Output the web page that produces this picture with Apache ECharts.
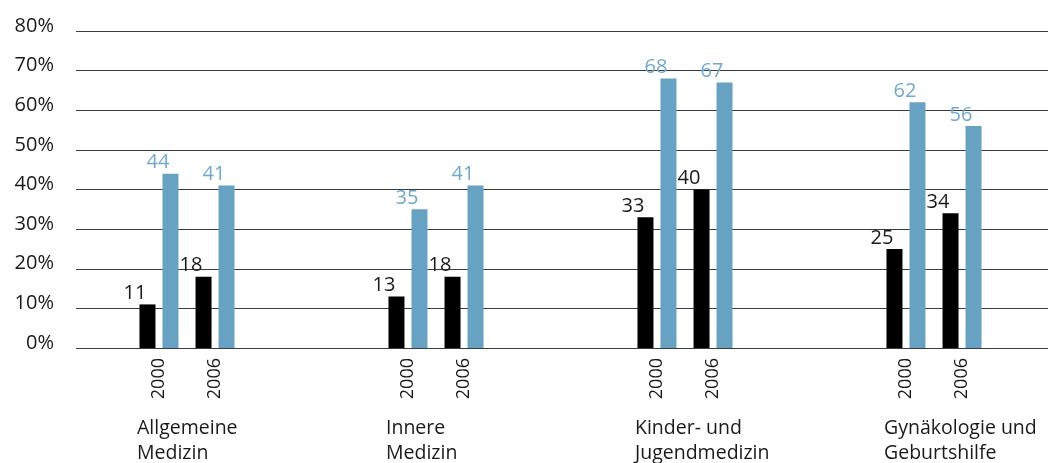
<!DOCTYPE html>
<html>
<head>
<meta charset="utf-8">
<script src="https://cdn.jsdelivr.net/npm/echarts@6/dist/echarts.min.js"></script>
<style>
  html, body { margin: 0; padding: 0; background: #fff; }
  #chart { width: 1048px; height: 463px; }
</style>
</head>
<body>
<div id="chart"></div>
<script>
const categories = ['Allgemeine\nMedizin', 'Innere\nMedizin', 'Kinder- und\nJugendmedizin', 'Gynäkologie und\nGeburtshilfe']
const years = ['2000', '2006']
const black2000 = [11, 13, 33, 25]
const blue2000 = [44, 35, 68, 62]
const black2006 = [18, 18, 40, 34]
const blue2006 = [41, 41, 67, 56]
const zeros = categories.map(() => 0)

const FONT = 'Open Sans'
const BLUE = '#68a2c2'

const valueLabel = (color) => ({
  show: true,
  position: 'top',
  distance: 1,
  offset: [-12.5, 0],
  fontFamily: FONT,
  fontSize: 20,
  color: color
})

// zero-height bar at the bottom of a stack, only carries the rotated year label
const yearSeries = (year, stack) => ({
  type: 'bar',
  xAxisIndex: 1,
  yAxisIndex: 1,
  stack: stack,
  barWidth: 16,
  barGap: '43.75%',
  clip: false,
  data: zeros,
  silent: true,
  itemStyle: { color: 'transparent' },
  label: {
    show: true,
    position: 'bottom',
    distance: 10,
    rotate: 90,
    align: 'right',
    verticalAlign: 'middle',
    offset: [0, 11],
    fontFamily: FONT,
    fontSize: 18,
    color: '#1a1a1a',
    formatter: () => year
  }
})

const barSeries = (data, color, stack, labelColor) => ({
  type: 'bar',
  xAxisIndex: 1,
  yAxisIndex: 1,
  stack: stack,
  barWidth: 16,
  barGap: '43.75%',
  clip: false,
  data: data,
  itemStyle: { color: color },
  label: valueLabel(labelColor)
})

const chart = echarts.init(document.getElementById('chart'))
chart.setOption({
  animation: false,
  grid: [
    { left: 76, right: 0, top: 31, height: 317, outerBoundsMode: 'none' },
    { left: 187, right: 114, top: 31, height: 317, outerBoundsMode: 'none' }
  ],
  xAxis: [
    { gridIndex: 0, type: 'category', data: categories, show: false },
    {
      gridIndex: 1,
      type: 'category',
      data: categories,
      boundaryGap: false,
      axisLine: { show: false },
      axisTick: { show: false },
      axisLabel: {
        interval: 0,
        align: 'left',
        padding: [0, 0, 0, -50],
        margin: 68,
        lineHeight: 25,
        fontFamily: FONT,
        fontSize: 19.5,
        color: '#1a1a1a'
      }
    }
  ],
  yAxis: [
    {
      gridIndex: 0,
      type: 'value',
      min: 0,
      max: 80,
      interval: 10,
      axisLine: { show: false },
      axisTick: { show: false },
      splitLine: { lineStyle: { color: '#3c3c3c', width: 1 } },
      axisLabel: {
        formatter: '{value}%',
        margin: 22,
        verticalAlign: 'bottom',
        lineHeight: 10,
        fontFamily: FONT,
        fontSize: 20,
        color: '#1a1a1a'
      }
    },
    { gridIndex: 1, type: 'value', min: 0, max: 80, show: false, splitLine: { show: false } }
  ],
  series: [
    yearSeries(years[0], 'b2000'),
    barSeries(black2000, '#000', 'b2000', '#1a1a1a'),
    barSeries(blue2000, BLUE, 'l2000', '#72a9c9'),
    {
      // spacer slot between the 2000 and 2006 pairs
      type: 'bar',
      xAxisIndex: 1,
      yAxisIndex: 1,
      barWidth: 7,
      barGap: '43.75%',
      data: zeros,
      silent: true,
      itemStyle: { color: 'transparent' }
    },
    yearSeries(years[1], 'b2006'),
    barSeries(black2006, '#000', 'b2006', '#1a1a1a'),
    barSeries(blue2006, BLUE, 'l2006', '#72a9c9')
  ]
})
</script>
</body>
</html>
